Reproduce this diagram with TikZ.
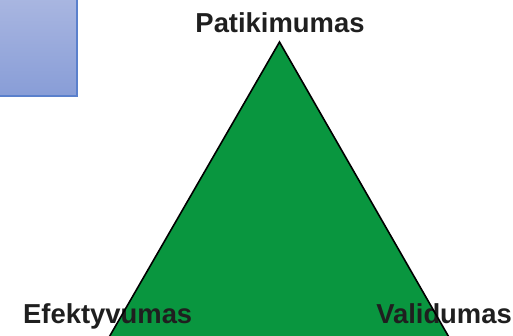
\documentclass[tikz,border=0pt]{standalone}
\usepackage{fontspec}
\setmainfont{Liberation Sans}
\usetikzlibrary{positioning}

\definecolor{boxtop}{HTML}{AAB7E1}
\definecolor{boxbot}{HTML}{889DD7}
\definecolor{boxedge}{HTML}{5A80CC}
\definecolor{trigreen}{HTML}{09963F}

\begin{document}
\begin{tikzpicture}[x=1pt,y=-1pt,
  word/.style={font=\bfseries\fontsize{27.4}{32}\selectfont, text=black!88, inner sep=0pt}]
  \useasboundingbox (0,0) rectangle (513,336);
  \clip (0,0) rectangle (513,336);
  % blue box in the corner
  \shade[top color=boxtop, bottom color=boxbot] (-5,-5) rectangle (77,96);
  \draw[boxedge, line width=2.2pt] (77,-5) -- (77,96) -- (-5,96);
  % triangle
  \coordinate (apex) at (279.5,42);
  \coordinate (baseL) at (104,346);
  \coordinate (baseR) at (454,346);
  \fill[trigreen] (apex) -- (baseL) -- (baseR) -- cycle;
  \node[word, anchor=base] (top) at (280,33) {Patikimumas};
  \node[word, anchor=base west] (eff) at (23,323) {Efektyvumas};
  \node[word, anchor=base east] (val) at (512,323) {Validumas};
  \draw[black, line width=1.6pt, line join=miter] (baseL) -- (apex) -- (baseR);
\end{tikzpicture}
\end{document}
